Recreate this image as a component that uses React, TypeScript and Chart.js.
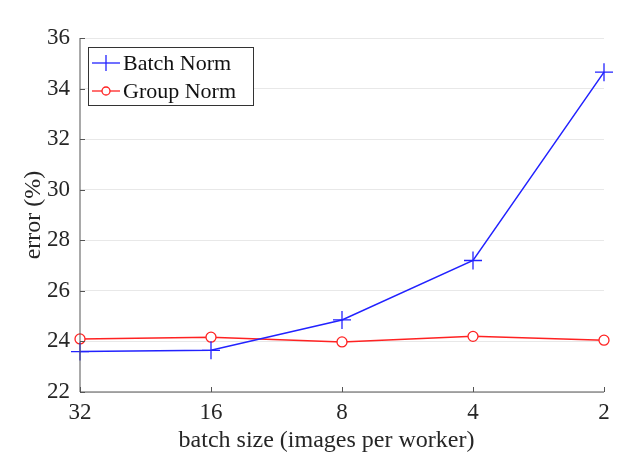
import React, { useEffect, useRef } from "react";
import { Chart, registerables } from "chart.js";

Chart.register(...registerables);

const categories = ["32", "16", "8", "4", "2"];
const batchNorm = [23.6, 23.65, 24.85, 27.2, 34.65];
const groupNorm = [24.1, 24.17, 23.98, 24.2, 24.05];
const yTicks = [22, 24, 26, 28, 30, 32, 34, 36];
const xTitle = "batch size (images per worker)";

const FONT = "'Liberation Serif', 'Times New Roman', serif";
const AXIS_COLOR = "#555555";
const TEXT_COLOR = "#262626";

const innerTicks = {
  id: "innerTicks",
  afterDatasetsDraw(chart: any) {
    const { ctx, chartArea, scales } = chart;
    ctx.save();
    ctx.strokeStyle = AXIS_COLOR;
    ctx.lineWidth = 1;
    const x = scales.x;
    const y = scales.y;
    ctx.beginPath();
    ctx.moveTo(chartArea.left, chartArea.top);
    ctx.lineTo(chartArea.left, chartArea.bottom);
    ctx.lineTo(chartArea.right, chartArea.bottom);
    ctx.stroke();
    const len = 5;
    x.ticks.forEach((_: any, i: number) => {
      const px = Math.round(x.getPixelForTick(i)) + 0.5;
      ctx.beginPath();
      ctx.moveTo(px, chartArea.bottom);
      ctx.lineTo(px, chartArea.bottom - len);
      ctx.stroke();
    });
    y.ticks.forEach((_: any, i: number) => {
      const py = Math.round(y.getPixelForTick(i)) + 0.5;
      ctx.beginPath();
      ctx.moveTo(chartArea.left, py);
      ctx.lineTo(chartArea.left + len, py);
      ctx.stroke();
    });
    // x-axis title, centred on the figure rather than the plot
    ctx.fillStyle = TEXT_COLOR;
    ctx.font = `24px ${FONT}`;
    ctx.textAlign = "center";
    ctx.textBaseline = "middle";
    ctx.fillText(xTitle, chart.width / 2 + 5, chartArea.bottom + 49);
    ctx.restore();
  },
};

const boxLegend = {
  id: "boxLegend",
  afterDraw(chart: any) {
    const { ctx, chartArea } = chart;
    const left = chartArea.left + 8;
    const top = chartArea.top + 9;
    const w = 165;
    const h = 58;
    ctx.save();
    ctx.fillStyle = "#ffffff";
    ctx.fillRect(left, top, w, h);
    ctx.strokeStyle = "#333333";
    ctx.lineWidth = 1;
    ctx.strokeRect(left + 0.5, top + 0.5, w, h);
    chart.data.datasets.forEach((ds: any, i: number) => {
      const cy = top + 16 + i * 28;
      ctx.strokeStyle = ds.borderColor;
      ctx.lineWidth = 1.3;
      ctx.beginPath();
      ctx.moveTo(left + 4, cy);
      ctx.lineTo(left + 32, cy);
      ctx.stroke();
      const cx = left + 18;
      if (ds.pointStyle === "cross") {
        ctx.beginPath();
        ctx.moveTo(cx, cy - 8);
        ctx.lineTo(cx, cy + 8);
        ctx.stroke();
      } else {
        ctx.beginPath();
        ctx.arc(cx, cy, 4, 0, Math.PI * 2);
        ctx.fillStyle = "#ffffff";
        ctx.fill();
        ctx.stroke();
      }
      ctx.fillStyle = "#111111";
      ctx.font = `22px ${FONT}`;
      ctx.textBaseline = "middle";
      ctx.textAlign = "left";
      ctx.fillText(ds.label, left + 35, cy + 1);
    });
    ctx.restore();
  },
};

export default function App() {
  const ref = useRef<HTMLCanvasElement | null>(null);
  useEffect(() => {
    if (!ref.current) return;
    const chart = new Chart(ref.current, {
      type: "line",
      data: {
        labels: categories,
        datasets: [
          {
            label: "Batch Norm",
            data: batchNorm,
            borderColor: "#2222ff",
            backgroundColor: "#2222ff",
            borderWidth: 1.5,
            pointStyle: "cross",
            pointRadius: 9,
            pointBorderWidth: 1.3,
            tension: 0,
          },
          {
            label: "Group Norm",
            data: groupNorm,
            borderColor: "#ff2222",
            backgroundColor: "#ffffff",
            borderWidth: 1.5,
            pointStyle: "circle",
            pointRadius: 5,
            pointBorderWidth: 1.3,
            tension: 0,
          },
        ],
      },
      plugins: [innerTicks, boxLegend],
      options: {
        animation: false,
        responsive: false,
        maintainAspectRatio: false,
        layout: { padding: { left: 0, right: 39, top: 38, bottom: 0 } },
        plugins: { legend: { display: false }, tooltip: { enabled: false } },
        scales: {
          x: {
            type: "category",
            offset: false,
            grid: { display: false, drawTicks: false },
            border: { display: false },
            ticks: {
              color: TEXT_COLOR,
              font: { family: FONT, size: 23 },
              padding: 7,
              maxRotation: 0,
            },
            title: { display: false },
            afterFit(scale: any) {
              scale.height = 68;
            },
          },
          y: {
            min: 22,
            max: 36,
            afterBuildTicks(scale: any) {
              scale.ticks = yTicks.map((v) => ({ value: v }));
            },
            grid: { color: "#e8e8e8", lineWidth: 1, drawTicks: false },
            border: { display: false },
            ticks: {
              color: TEXT_COLOR,
              font: { family: FONT, size: 23 },
              padding: 10,
            },
            title: {
              display: true,
              text: "error (%)",
              color: TEXT_COLOR,
              font: { family: FONT, size: 24 },
              padding: { top: 19, bottom: 0 },
            },
            afterFit(scale: any) {
              scale.width = 80;
            },
          },
        },
      },
    });
    return () => chart.destroy();
  }, []);
  return (
    <div style={{ position: "fixed", left: 0, top: 0, width: 643, height: 460, background: "#fff" }}>
      <canvas ref={ref} width={643} height={460} />
    </div>
  );
}
